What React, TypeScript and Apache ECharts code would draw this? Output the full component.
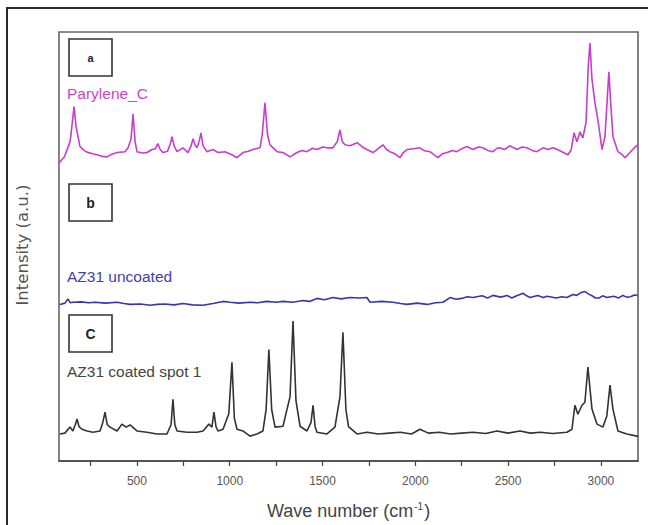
import React, { useEffect, useRef } from "react";
import * as echarts from "echarts";

// Raman spectra (wavenumber cm^-1, stacked intensity a.u.)
const paryleneC: number[][] = [
  [82, 69.5], [110, 71.0], [140, 74.5], [152, 79], [161, 82.6], [172, 78], [193, 73.3], [215, 72.4], [231, 72.0], [260, 71.6],
  [285, 71.4], [315, 71.0], [339, 70.9], [365, 71.5], [393, 71.9], [436, 72.1], [452, 73.0], [468, 75], [479, 80.9], [490, 74.5],
  [500, 72.1], [530, 71.8], [554, 71.9], [581, 72.6], [600, 72.8], [613, 74.0], [625, 72.6], [640, 71.9], [665, 72.2], [680, 74],
  [689, 75.6], [700, 73.5], [716, 72.1], [748, 73.0], [775, 71.9], [792, 73.5], [802, 75.1], [815, 73.5], [824, 73.0], [835, 74.5],
  [845, 76.5], [856, 73.5], [877, 72.1], [910, 72.6], [937, 71.9], [974, 72.1], [1012, 71.4], [1039, 70.7], [1071, 71.9], [1100, 72.2],
  [1125, 72.6], [1163, 73.0], [1175, 76], [1190, 83.5], [1204, 76], [1217, 73.7], [1255, 72.1], [1287, 71.9], [1325, 70.9], [1362, 71.9],
  [1390, 72.4], [1416, 72.1], [1445, 72.9], [1470, 72.6], [1500, 73.2], [1524, 73.0], [1556, 73.0], [1580, 74.5], [1594, 77.2], [1606, 74.5],
  [1621, 73.7], [1648, 73.5], [1686, 74.2], [1715, 73.2], [1739, 72.6], [1772, 71.9], [1800, 72.8], [1826, 73.7], [1845, 72.6], [1863, 72.1],
  [1890, 71.6], [1917, 70.7], [1935, 71.9], [1955, 72.6], [1990, 72.8], [2025, 73.0], [2050, 72.3], [2079, 72.1], [2100, 71.4], [2122, 70.7],
  [2145, 71.6], [2171, 71.9], [2200, 72.4], [2224, 72.1], [2250, 72.8], [2278, 73.3], [2311, 72.6], [2340, 73.2], [2364, 73.0], [2390, 72.4],
  [2418, 72.1], [2440, 72.9], [2456, 73.0], [2480, 72.6], [2510, 73.5], [2530, 73.0], [2548, 72.6], [2575, 73.2], [2602, 73.0], [2630, 72.4],
  [2655, 72.1], [2688, 73.0], [2715, 72.6], [2742, 73.0], [2765, 72.6], [2790, 72.1], [2822, 71.4], [2840, 72.5], [2855, 76.5], [2871, 74.4],
  [2887, 76.7], [2903, 75.3], [2920, 79], [2932, 92], [2941, 97.4], [2952, 89], [2968, 83.5], [2984, 79.5], [3006, 72.6], [3022, 75.6],
  [3035, 85], [3043, 90.7], [3052, 84], [3065, 75.6], [3092, 72.1], [3115, 71.4], [3130, 70.7], [3157, 71.9], [3180, 73.0], [3198, 73.7],
];

const az31Uncoated: number[][] = [
  [85, 36.5], [112, 36.8], [128, 37.8], [140, 36.9], [155, 37.0], [200, 37.1], [240, 36.9], [274, 37.0], [330, 36.8], [393, 37.0],
  [430, 36.7], [463, 36.5], [520, 36.6], [570, 36.3], [610, 36.5], [650, 36.6], [700, 36.4], [748, 36.7], [800, 36.4], [856, 36.3],
  [910, 36.7], [964, 37.2], [1001, 37.0], [1050, 36.8], [1109, 37.0], [1150, 36.9], [1200, 37.2], [1250, 37.0], [1287, 37.2], [1340, 37.0],
  [1395, 37.4], [1430, 37.2], [1470, 37.9], [1510, 37.6], [1556, 38.1], [1600, 37.8], [1648, 38.1], [1700, 38.0], [1739, 38.1], [1756, 37.0],
  [1820, 37.2], [1880, 37.0], [1920, 36.7], [1955, 36.5], [2010, 36.8], [2063, 36.5], [2110, 36.9], [2149, 37.0], [2187, 38.1], [2220, 37.7],
  [2250, 37.9], [2280, 38.3], [2311, 38.1], [2360, 38.5], [2390, 38.0], [2418, 38.6], [2460, 38.2], [2494, 38.6], [2520, 38.0], [2540, 38.4],
  [2580, 39.1], [2600, 38.5], [2618, 38.1], [2660, 38.6], [2690, 38.1], [2709, 38.4], [2760, 38.0], [2790, 38.3], [2817, 38.1], [2849, 38.8],
  [2870, 38.6], [2890, 39.2], [2914, 39.5], [2935, 38.9], [2957, 38.4], [2970, 38.0], [2990, 38.0], [3010, 38.5], [3032, 38.1], [3070, 38.4],
  [3095, 38.0], [3118, 38.6], [3140, 38.2], [3160, 38.3], [3180, 38.7], [3198, 38.6],
];

const az31Coated: number[][] = [
  [85, 6.3], [112, 6.5], [139, 7.9], [155, 7.0], [168, 8.5], [177, 9.8], [188, 8.0], [204, 7.4], [231, 7.0], [263, 6.7],
  [301, 7.0], [316, 9.0], [328, 11.4], [340, 8.5], [355, 7.9], [393, 7.0], [419, 8.6], [441, 7.9], [463, 8.4], [500, 7.0],
  [554, 6.7], [608, 6.3], [662, 6.3], [684, 8.5], [694, 14.4], [704, 8.5], [716, 7.0], [770, 6.7], [824, 6.7], [856, 7.0],
  [888, 8.6], [904, 7.9], [915, 11.4], [926, 8.0], [937, 7.0], [964, 7.4], [995, 11.0], [1012, 23.0], [1025, 10.0], [1039, 7.4],
  [1071, 7.0], [1109, 5.8], [1147, 6.3], [1179, 7.0], [1196, 12.0], [1211, 26.0], [1226, 12.0], [1244, 7.9], [1287, 8.1], [1325, 15.0],
  [1341, 32.6], [1357, 14.0], [1379, 8.1], [1416, 7.0], [1438, 9.0], [1449, 13.0], [1460, 8.0], [1470, 6.7], [1524, 6.3], [1567, 7.9],
  [1594, 15.0], [1610, 30.0], [1626, 12.0], [1640, 8.0], [1686, 6.3], [1740, 6.7], [1800, 6.3], [1860, 6.5], [1920, 6.7], [1980, 6.3],
  [2025, 7.4], [2070, 6.5], [2130, 6.7], [2190, 6.3], [2250, 6.5], [2310, 6.7], [2380, 6.4], [2440, 7.0], [2500, 6.5], [2564, 7.0],
  [2620, 6.5], [2672, 6.7], [2740, 6.4], [2817, 6.7], [2844, 7.4], [2860, 13.0], [2876, 10.9], [2898, 13.0], [2914, 13.7], [2930, 21.9],
  [2952, 12.1], [2979, 8.6], [3011, 7.9], [3032, 10.5], [3049, 17.7], [3065, 12.1], [3092, 7.0], [3140, 6.3], [3194, 5.8], [3200, 5.6],
];

const xTickValues = [250, 500, 750, 1000, 1250, 1500, 1750, 2000, 2250, 2500, 2750, 3000];
const xLabelValues = [500, 1000, 1500, 2000, 2500, 3000];

const panelLetters = ["a", "b", "C"];
const seriesNames = ["Parylene_C", "AZ31 uncoated", "AZ31 coated spot 1"];

export default function App() {
  const ref = useRef<HTMLDivElement>(null);
  useEffect(() => {
    if (!ref.current) return;
    const chart = echarts.init(ref.current, undefined, { renderer: "svg" });
    const colors = ["#c83ccf", "#3535b5", "#333333"];
    const textColors = ["#cc44cc", "#4040b0", "#444444"];
    const boxTops = [39, 184, 315];
    const labelY = [93, 276, 371];
    const graphics: any[] = [
      {
        type: "polyline",
        shape: { points: [[7, 525], [7, 8], [648, 8]] },
        style: { stroke: "#2a2a2a", lineWidth: 2, fill: "none" },
        z: 10,
      },
    ];
    panelLetters.forEach((l, i) => {
      graphics.push({
        type: "rect",
        shape: { x: 69, y: boxTops[i], width: 43, height: 37 },
        style: { fill: "#fff", stroke: "#333", lineWidth: 1.6 },
        z: 10,
      });
      graphics.push({
        type: "text",
        x: 90.5,
        y: boxTops[i] + 18.5,
        style: {
          text: l,
          fontFamily: "Liberation Sans, Arial, sans-serif",
          fontWeight: "bold",
          fontSize: i === 0 ? 11 : 14,
          fill: "#222",
          align: "center",
          verticalAlign: "middle",
        },
        z: 11,
      });
      graphics.push({
        type: "text",
        x: 67,
        y: labelY[i],
        style: {
          text: seriesNames[i],
          fontFamily: "Liberation Sans, Arial, sans-serif",
          fontSize: 15.5,
          fill: textColors[i],
          align: "left",
          verticalAlign: "middle",
        },
        z: 11,
      });
    });
    graphics.push({
      type: "text",
      x: 22,
      y: 245,
      rotation: Math.PI / 2,
      style: {
        text: "Intensity (a.u.)",
        fontFamily: "DejaVu Sans, sans-serif",
        fontSize: 16.5,
        fill: "#555",
        align: "center",
        verticalAlign: "middle",
      },
      z: 11,
    });

    chart.setOption({
      animation: false,
      backgroundColor: "#fff",
      grid: {
        left: 59,
        right: 10,
        top: 32,
        bottom: 63,
        show: true,
        borderColor: "#666",
        borderWidth: 1.6,
        backgroundColor: "transparent",
      },
      xAxis: {
        type: "value",
        min: 80,
        max: 3200,
        axisLine: { show: true, lineStyle: { color: "#444", width: 1.6 } },
        axisTick: {
          show: true,
          inside: false,
          length: 5,
          customValues: xTickValues,
          lineStyle: { color: "#444", width: 1.2 },
        },
        axisLabel: {
          customValues: xLabelValues,
          formatter: (v: number) => String(v),
          margin: 14,
          color: "#555",
          fontSize: 12,
          fontFamily: "Liberation Sans, Arial, sans-serif",
        },
        splitLine: { show: false },
        name: "Wave number (cm{sup|-1})",
        nameLocation: "middle",
        nameGap: 40,
        nameTextStyle: {
          color: "#444",
          fontSize: 18,
          fontFamily: "Liberation Sans, Arial, sans-serif",
          rich: {
            sup: {
              fontSize: 10,
              color: "#444",
              fontFamily: "Liberation Sans, Arial, sans-serif",
              padding: [0, 1, 10, 1],
            },
          },
        },
      },
      yAxis: {
        type: "value",
        min: 0,
        max: 100,
        axisLine: { show: false },
        axisTick: { show: false },
        axisLabel: { show: false },
        splitLine: { show: false },
      },
      series: [paryleneC, az31Uncoated, az31Coated].map((d, i) => ({
        type: "line",
        name: seriesNames[i],
        data: d,
        showSymbol: false,
        symbol: "none",
        lineStyle: { color: colors[i], width: 1.6 },
        itemStyle: { color: colors[i] },
        z: 3,
      })),
      graphic: graphics,
    });
    return () => chart.dispose();
  }, []);
  return (
    <div
      ref={ref}
      style={{ position: "fixed", left: 0, top: 0, width: 648, height: 525, background: "#fff" }}
    />
  );
}
